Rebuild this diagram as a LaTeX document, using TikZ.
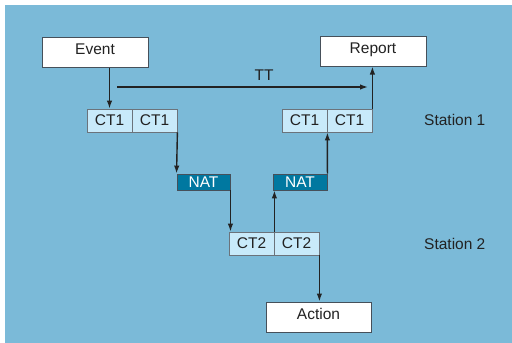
\documentclass[tikz,border=0pt]{standalone}
\usepackage{fontspec}
\setmainfont{Liberation Sans}
\usetikzlibrary{arrows.meta}
\definecolor{bgblue}{RGB}{123,186,216}
\definecolor{ctfill}{RGB}{200,234,250}
\definecolor{natfill}{RGB}{0,120,160}
\definecolor{txt}{RGB}{34,34,34}
\definecolor{edge}{RGB}{70,80,90}
\begin{document}
\begin{tikzpicture}[x=1pt,y=-1pt,
  font=\fontsize{15.5}{17}\selectfont,
  whitebox/.style={draw=edge,line width=1pt,fill=white,minimum width=106pt,minimum height=30pt,inner sep=0pt,text=txt,text height=11pt,text depth=6pt},
  ctbox/.style={draw=edge!80,line width=0.8pt,fill=ctfill,minimum width=45pt,minimum height=23pt,inner sep=0pt,text=txt},
  natbox/.style={draw=edge,line width=0.9pt,fill=natfill,minimum width=53pt,minimum height=16pt,inner sep=0pt,text=white},
  conn/.style={draw=txt,line width=1.4pt,-{Latex[length=8pt,width=5.5pt]}},
  lbl/.style={text=txt,inner sep=0pt}]
\useasboundingbox (0,0) rectangle (512,343);
\fill[white] (0,0) rectangle (512,343);
\fill[bgblue] (5,5) rectangle (512,343);
\node[whitebox] (event) at (95,52) {Event};
\node[whitebox] (report) at (373,51) {Report};
\node[whitebox,minimum width=105pt] (action) at (318.5,317) {Action};
\node[ctbox] (c1a) at (109.5,120.5) {CT1};
\node[ctbox] (c1b) at (154.5,120.5) {CT1};
\node[ctbox] (c1c) at (304.5,120.5) {CT1};
\node[ctbox] (c1d) at (349.5,120.5) {CT1};
\node[natbox] (nat1) at (203.5,182) {NAT};
\node[natbox,minimum width=54pt] (nat2) at (300,182) {NAT};
\node[ctbox] (c2a) at (251.5,243.5) {CT2};
\node[ctbox] (c2b) at (296.5,243.5) {CT2};
\node[lbl,anchor=west] (st1) at (424,120) {Station 1};
\node[lbl,anchor=west] (st2) at (424,244) {Station 2};
\node[lbl] (tt) at (264,75) {TT};
\coordinate (ttA) at (117,87);
\coordinate (ttB) at (368,87);
\draw[conn] (ttA) -- (ttB);
\draw[conn] (c1a.north |- event.south) -- (c1a.north);
\draw[conn] (c1b.south east) -- (nat1.north west);
\draw[conn] (nat1.south east) -- (nat1.south east |- c2a.north);
\draw[conn] (c2a.north east) -- (c2a.north east |- nat2.south);
\draw[conn] (nat2.north east) -- (c1c.south east);
\draw[conn] (c1d.north east) -- (c1d.north east |- report.south);
\draw[conn] (c2b.south east) -- (c2b.south east |- action.north);
\end{tikzpicture}
\end{document}
